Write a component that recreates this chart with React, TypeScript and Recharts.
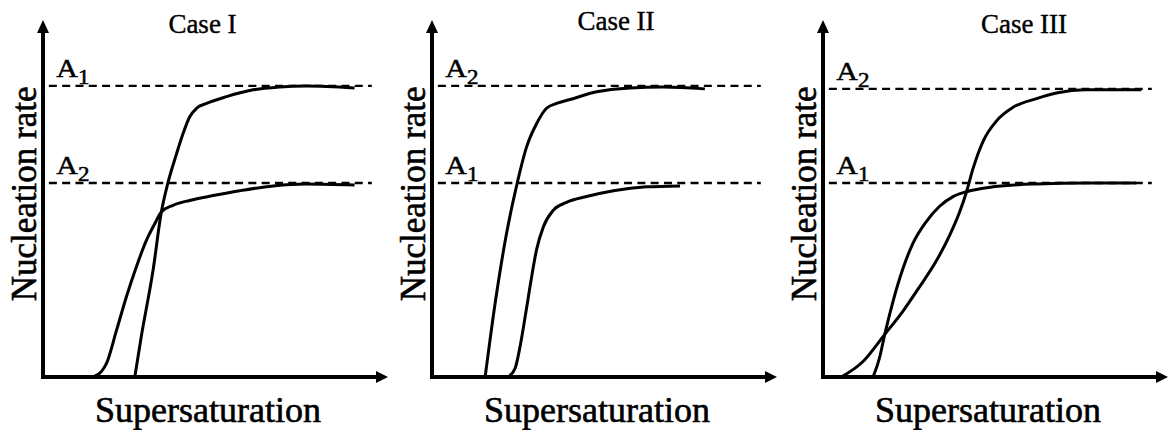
import React from 'react';
import { LineChart, Line, XAxis, YAxis, ReferenceLine, ReferenceDot } from 'recharts';

const FONT = '"Liberation Serif", "Times New Roman", Times, serif';

// ---- text ----
const titles = ['Case I', 'Case II', 'Case III'];
const xAxisTitle = 'Supersaturation';
const yAxisTitle = 'Nucleation rate';
// subscripts of the upper / lower dashed plateau labels (A_n)
const upperLevelSub = ['1', '2', '2'];
const lowerLevelSub = ['2', '1', '1'];

// ---- plateau levels (relative nucleation rate units) ----
const upperLevel = [3.0, 3.0, 2.97];
const lowerLevel = [2.0, 2.0, 2.0];
const levelStartX = 1.7;
const levelEndX = 95.3;

// ---- axis ranges ----
const xMax = 100;
const yMax = 3.68;
const xAxisLineEnd = 97;
const yAxisLineEnd = 3.6;

// ---- Case I ----
const c1UpperX = [26.6, 28.5, 31.9, 34.3, 36.2, 38.7, 40.6, 42.5, 44.5, 47.4, 53.2, 60.9, 68.6, 76.3, 90.3];
const c1UpperY = [0, 0.42, 1.1, 1.7, 2.0, 2.3, 2.51, 2.68, 2.77, 2.82, 2.89, 2.96, 2.99, 3.0, 2.98];
const c1LowerX = [14.5, 16.9, 18.4, 21.3, 24.2, 27.1, 30.0, 32.4, 34.3, 37.7, 42.5, 49.3, 57.0, 66.7, 76.3, 90.3];
const c1LowerY = [0, 0.055, 0.14, 0.48, 0.83, 1.14, 1.41, 1.58, 1.7, 1.77, 1.82, 1.87, 1.92, 1.97, 1.99, 1.98];

// ---- Case II ----
const c2UpperX = [15.4, 18.3, 21.4, 24.7, 27.4, 30.3, 33.2, 36.1, 40.0, 47.7, 57.4, 67.0, 79.1];
const c2UpperY = [0, 0.76, 1.44, 2.0, 2.37, 2.61, 2.77, 2.82, 2.86, 2.94, 2.98, 2.99, 2.97];
const c2LowerX = [22.1, 24.1, 25.5, 27.0, 28.4, 30.3, 32.3, 35.2, 39.0, 44.8, 52.6, 62.2, 71.9];
const c2LowerY = [0, 0.09, 0.31, 0.62, 0.93, 1.31, 1.55, 1.72, 1.8, 1.86, 1.92, 1.96, 1.97];

// ---- Case III ----
const c3UpperX = [5.3, 11.6, 17.9, 23.2, 28.0, 32.9, 36.7, 39.6, 41.6, 43.5, 46.4, 50.3, 55.1, 61.9, 68.0, 76.0, 92.3];
const c3UpperY = [0, 0.16, 0.44, 0.68, 0.93, 1.2, 1.46, 1.7, 1.91, 2.15, 2.43, 2.64, 2.78, 2.87, 2.93, 2.96, 2.96];
const c3LowerX = [14.5, 16.4, 17.9, 20.3, 23.2, 26.1, 29.9, 33.8, 37.7, 41.6, 49.3, 61.9, 76.3, 90.8];
const c3LowerY = [0, 0.2, 0.44, 0.78, 1.12, 1.38, 1.6, 1.76, 1.86, 1.91, 1.96, 1.99, 2.0, 2.0];

const zip = (xs: number[], ys: number[]) => xs.map((x, i) => ({ x, y: ys[i] }));

const curves = [
  [zip(c1UpperX, c1UpperY), zip(c1LowerX, c1LowerY)],
  [zip(c2UpperX, c2UpperY), zip(c2LowerX, c2LowerY)],
  [zip(c3UpperX, c3UpperY), zip(c3LowerX, c3LowerY)],
];

// panel layout (styles)
const panelLeft = [0, 389, 780];
const titleCenter = [202.5, 227, 244];
const titleBaseline = [32.5, 29.5, 32.5];
const PANEL_W = 390;
const PANEL_H = 430;
const MARGIN = { top: 20, right: 2, bottom: 53, left: 43 };

const UpArrow = (props: any) => {
  const { cx, cy } = props;
  return <polygon points={`${cx},${cy} ${cx - 6},${cy + 13} ${cx + 6},${cy + 13}`} fill="#000" />;
};
const RightArrow = (props: any) => {
  const { cx, cy } = props;
  return <polygon points={`${cx},${cy} ${cx - 12},${cy - 6} ${cx - 12},${cy + 6}`} fill="#000" />;
};

const serif = (size: number, weight = 0.5) => ({
  fontFamily: FONT,
  fontSize: size,
  fill: '#000',
  stroke: '#000',
  strokeWidth: weight,
});

const renderXLabel = (props: any) => {
  const vb = props.viewBox || {};
  return (
    <text x={vb.x + 165} y={vb.y + 45} textAnchor="middle" style={serif(36, 0.6)}>
      {xAxisTitle}
    </text>
  );
};

const renderYLabel = (props: any) => {
  const vb = props.viewBox || {};
  const x = vb.x - 6.5;
  const cy = vb.y + vb.height / 2 - 8.5;
  return (
    <text x={x} y={cy} transform={`rotate(-90, ${x}, ${cy})`} textAnchor="middle" style={serif(35, 0.6)}>
      {yAxisTitle}
    </text>
  );
};

const makeLevelLabel = (sub: string) => (props: any) => {
  const vb = props.viewBox || {};
  const x = vb.x + 7.5;
  const y = vb.y - 9;
  return (
    <text transform={`translate(${x},${y}) scale(1.15,1)`} style={serif(26, 0.5)}>
      A
      <tspan dy={7} style={{ fontSize: 20 }}>
        {sub}
      </tspan>
    </text>
  );
};

const Panel = ({ i }: { i: number }) => {
  const [upper, lower] = curves[i];
  return (
    <div style={{ position: 'absolute', left: panelLeft[i], top: 0, width: PANEL_W, height: PANEL_H }}>
      <LineChart width={PANEL_W} height={PANEL_H} margin={MARGIN} style={{ fontFamily: FONT }}>
        <XAxis
          type="number"
          dataKey="x"
          domain={[0, xMax]}
          height={0}
          tick={false}
          tickLine={false}
          axisLine={false}
          allowDataOverflow
        />
        <YAxis
          type="number"
          dataKey="y"
          domain={[0, yMax]}
          width={0}
          tick={false}
          tickLine={false}
          axisLine={false}
          allowDataOverflow
        />
        <ReferenceLine
          segment={[{ x: levelStartX, y: upperLevel[i] }, { x: levelEndX, y: upperLevel[i] }]}
          stroke="#000"
          strokeWidth={2.3}
          strokeDasharray="8 5.3"
          ifOverflow="visible"
          label={makeLevelLabel(upperLevelSub[i])}
        />
        <ReferenceLine
          segment={[{ x: levelStartX, y: lowerLevel[i] }, { x: levelEndX, y: lowerLevel[i] }]}
          stroke="#000"
          strokeWidth={2.3}
          strokeDasharray="8 5.3"
          ifOverflow="visible"
          label={makeLevelLabel(lowerLevelSub[i])}
        />
        <Line
          data={upper}
          dataKey="y"
          type="monotone"
          stroke="#000"
          strokeWidth={3}
          dot={false}
          activeDot={false}
          isAnimationActive={false}
        />
        <Line
          data={lower}
          dataKey="y"
          type="monotone"
          stroke="#000"
          strokeWidth={3}
          dot={false}
          activeDot={false}
          isAnimationActive={false}
        />
        <ReferenceLine
          segment={[{ x: 0, y: 0 }, { x: xAxisLineEnd, y: 0 }]}
          stroke="#000"
          strokeWidth={4}
          strokeLinecap="square"
          ifOverflow="visible"
          label={renderXLabel}
        />
        <ReferenceLine
          segment={[{ x: 0, y: 0 }, { x: 0, y: yAxisLineEnd }]}
          stroke="#000"
          strokeWidth={4}
          strokeLinecap="square"
          ifOverflow="visible"
          label={renderYLabel}
        />
        <ReferenceDot x={xMax} y={0} r={0} ifOverflow="visible" shape={RightArrow} />
        <ReferenceDot x={0} y={yMax} r={0} ifOverflow="visible" shape={UpArrow} />
      </LineChart>
      <svg
        width={PANEL_W}
        height={50}
        style={{ position: 'absolute', left: 0, top: 0, pointerEvents: 'none' }}
      >
        <text x={titleCenter[i]} y={titleBaseline[i]} textAnchor="middle" style={serif(27, 0.4)}>
          {titles[i]}
        </text>
      </svg>
    </div>
  );
};

export default function App() {
  return (
    <div
      style={{
        position: 'absolute',
        left: 0,
        top: 0,
        width: 1169,
        height: 430,
        background: '#fff',
        overflow: 'hidden',
        fontFamily: FONT,
      }}
    >
      {titles.map((_, i) => (
        <Panel key={i} i={i} />
      ))}
    </div>
  );
}
